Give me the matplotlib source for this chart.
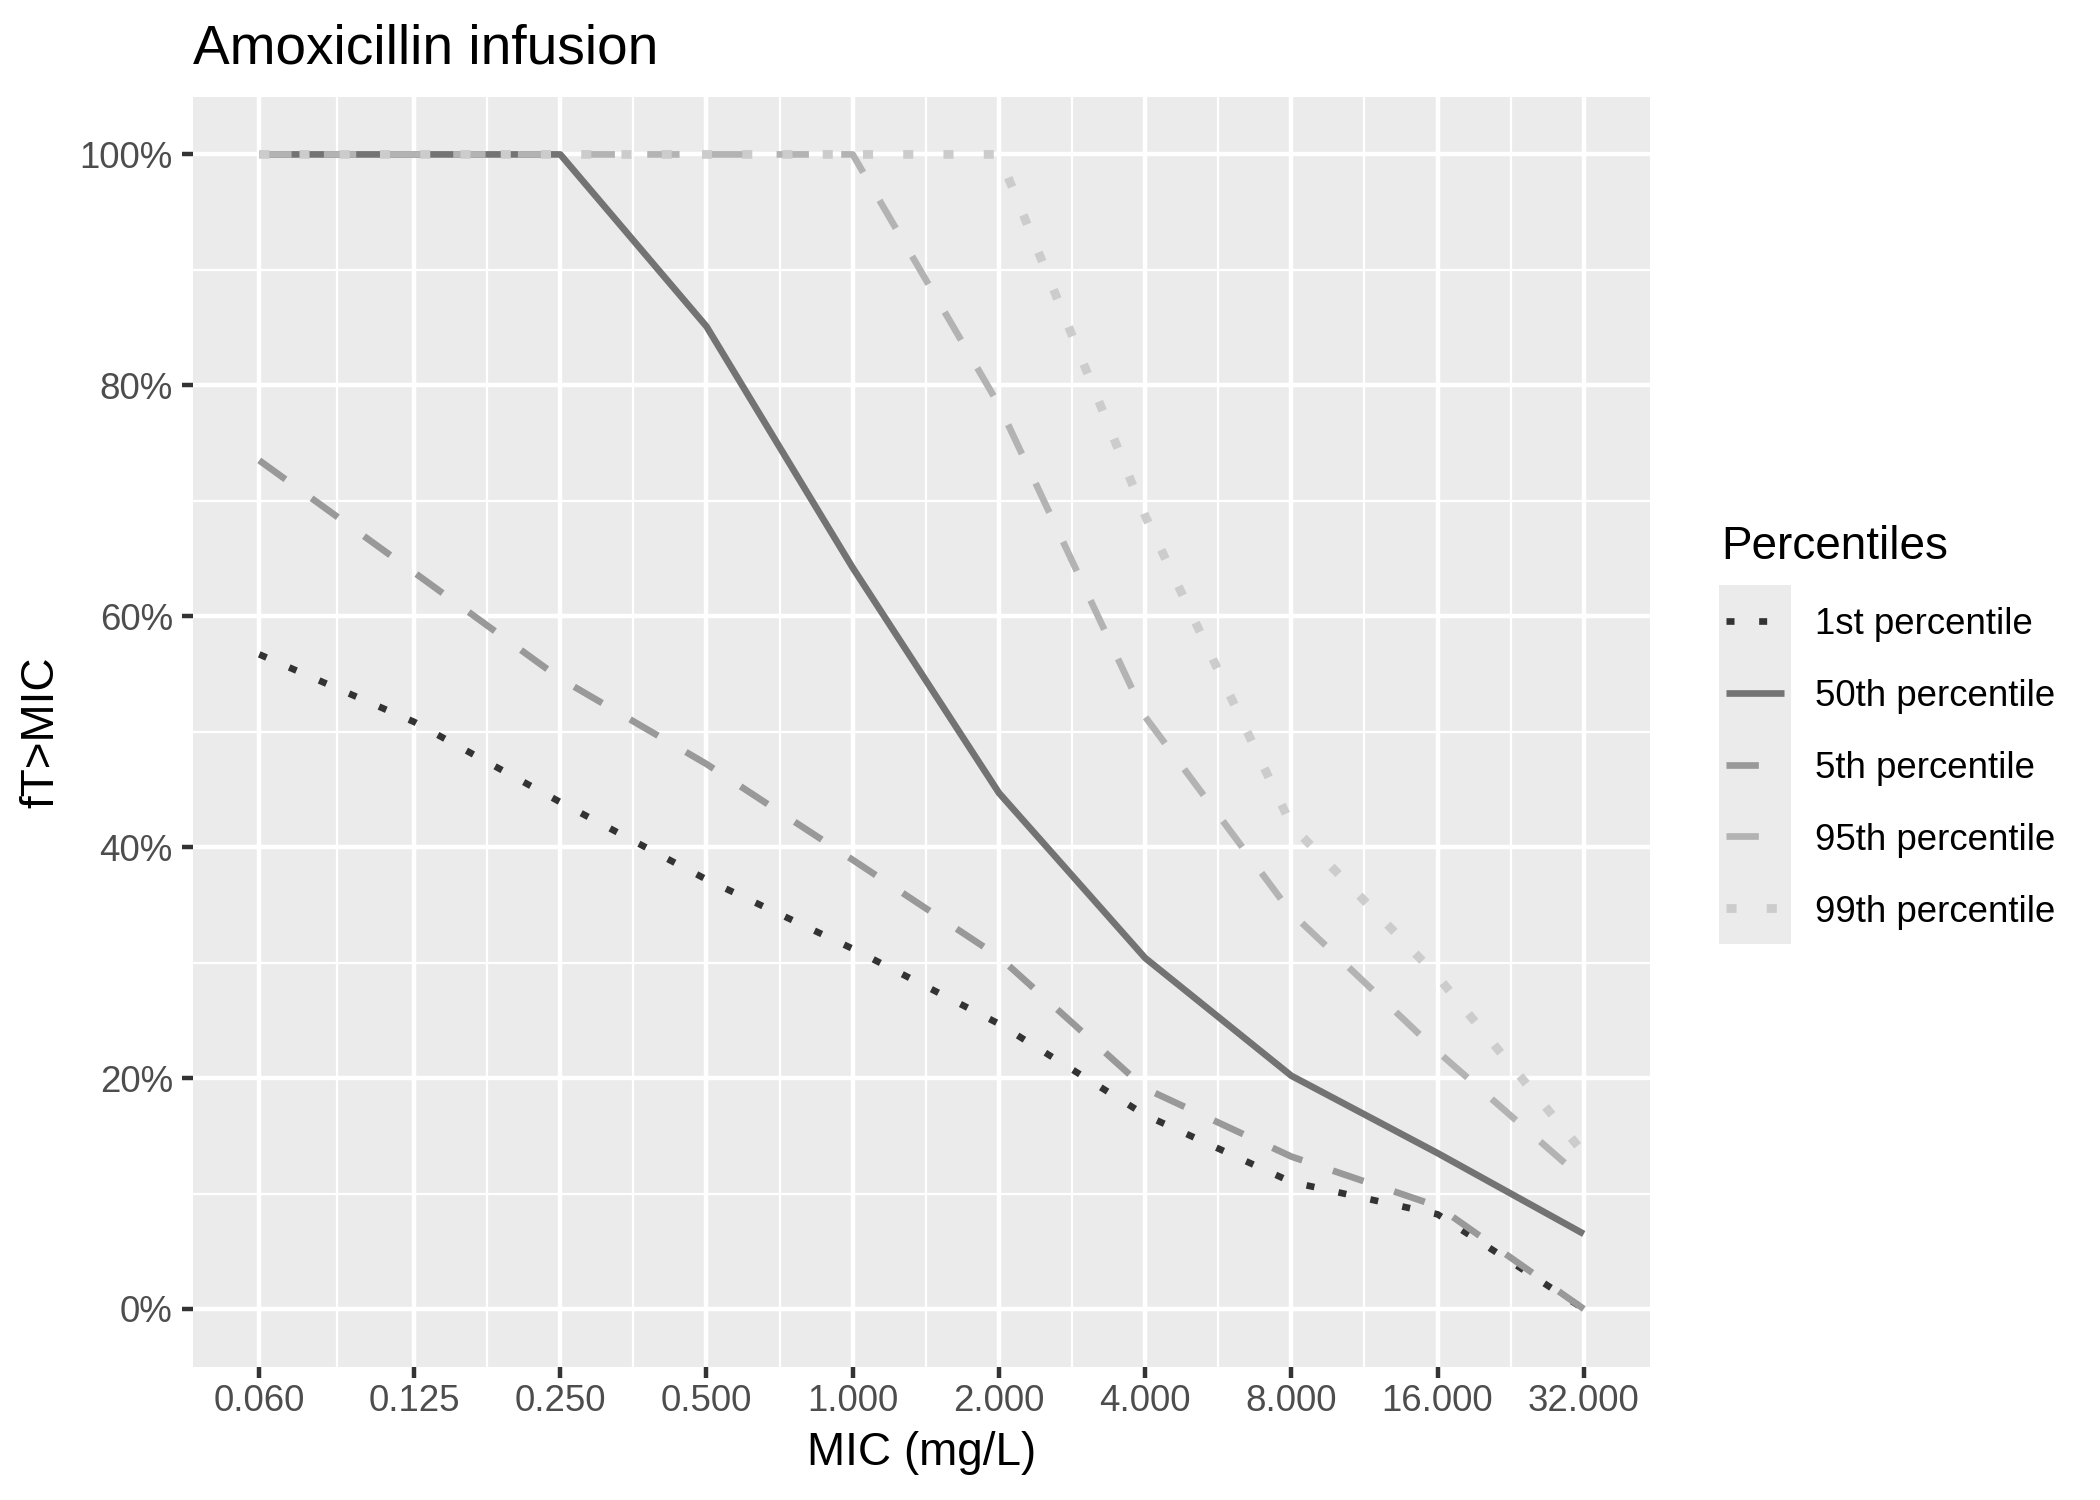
import matplotlib
matplotlib.use("Agg")
import matplotlib.pyplot as plt
import numpy as np
from matplotlib.ticker import FixedLocator, FixedFormatter, NullFormatter

plt.rcParams['font.family'] = ['Liberation Sans', 'DejaVu Sans']

# ---------------- data ----------------
mic = [0.06, 0.125, 0.25, 0.5, 1, 2, 4, 8, 16, 32]
mic_labels = ["0.060", "0.125", "0.250", "0.500", "1.000", "2.000",
              "4.000", "8.000", "16.000", "32.000"]
p1 = [56.7, 50.85, 43.9, 37.2, 31.2, 24.7, 16.8, 11.0, 8.2, 0.0]
p50 = [100, 100, 100, 85.1, 64.2, 44.7, 30.4, 20.2, 13.5, 6.5]
p5 = [73.5, 63.8, 54.6, 47.2, 38.9, 30.5, 19.1, 13.2, 8.9, 0.0]
p95 = [100, 100, 100, 100, 100, 78.3, 51.3, 34.3, 22.3, 11.2]
p99 = [100, 100, 100, 100, 100, 100, 68.7, 41.9, 28.8, 13.5]

series_labels = ["1st percentile", "50th percentile", "5th percentile",
                 "95th percentile", "99th percentile"]
series_values = [p1, p50, p5, p95, p99]
series_colors = ["#333333", "#737373", "#999999", "#B3B3B3", "#CCCCCC"]
series_lw = [1.6, 1.6, 1.6, 1.6, 2.1]
series_style = [(0, (1.2, 3.7)), "-", (0, (4.85, 4.85)), (0, (4.85, 4.85)), (0, (1.15, 3.45))]

y_ticks = [0, 20, 40, 60, 80, 100]
y_labels = ["0%", "20%", "40%", "60%", "80%", "100%"]

# ---------------- figure ----------------
W, H = 2100, 1500
fig = plt.figure(figsize=(7, 5), dpi=300)
fig.patch.set_facecolor("white")

px_l, px_r, px_t, px_b = 193, 1650, 96.7, 1366.7
ax = fig.add_axes([px_l / W, 1 - px_b / H, (px_r - px_l) / W, (px_b - px_t) / H])
ax.set_facecolor("#EBEBEB")
for s in ax.spines.values():
    s.set_visible(False)

ax.set_xscale("log", base=2)
span = np.log2(mic[-1] / mic[0])
ax.set_xlim(mic[0] / 2 ** (0.05 * span), mic[-1] * 2 ** (0.05 * span))
ax.set_ylim(-5, 105)

mic_arr = np.array(mic, dtype=float)
ax.xaxis.set_major_locator(FixedLocator(mic))
ax.xaxis.set_major_formatter(FixedFormatter(mic_labels))
ax.xaxis.set_minor_locator(FixedLocator(np.sqrt(mic_arr[:-1] * mic_arr[1:])))
ax.xaxis.set_minor_formatter(NullFormatter())
ax.yaxis.set_major_locator(FixedLocator(y_ticks))
ax.yaxis.set_major_formatter(FixedFormatter(y_labels))
ax.yaxis.set_minor_locator(FixedLocator([10, 30, 50, 70, 90]))
ax.yaxis.set_minor_formatter(NullFormatter())

ax.set_axisbelow(True)
ax.grid(which="major", color="white", linewidth=1.07)
ax.grid(which="minor", color="white", linewidth=0.53)
ax.tick_params(which="major", length=2.64, width=1.07, color="#333333",
               labelsize=8.8, labelcolor="#4D4D4D")
ax.tick_params(axis="x", which="major", pad=1.6)
ax.tick_params(axis="y", which="major", pad=2.2)
ax.tick_params(which="minor", length=0)

for lab, vals, col, lw, ls in zip(series_labels, series_values, series_colors,
                                  series_lw, series_style):
    ax.plot(mic, vals, color=col, linewidth=lw, linestyle=ls,
            dash_capstyle="butt", solid_capstyle="butt",
            solid_joinstyle="round", dash_joinstyle="round", label=lab)

# titles
fig.text(px_l / W, 1 - 63 / H, "Amoxicillin infusion", fontsize=13.2,
         color="black", ha="left", va="baseline")
fig.text((px_l + px_r) / 2 / W, 1 - 1453 / H, "MIC (mg/L)", fontsize=11,
         color="black", ha="center", va="center")
fig.text(41 / W, 1 - (px_t + px_b) / 2 / H, "fT>MIC", fontsize=11,
         color="black", ha="center", va="center", rotation=90)

# ---------------- legend ----------------
key_l, key_r, key_t, key_b = 1719, 1791, 585, 944
n = len(series_labels)
lax = fig.add_axes([key_l / W, 1 - key_b / H, (key_r - key_l) / W, (key_b - key_t) / H])
lax.set_facecolor("#EBEBEB")
for s in lax.spines.values():
    s.set_visible(False)
lax.set_xticks([])
lax.set_yticks([])
lax.set_xlim(0, 1)
lax.set_ylim(0, n)
row_h = (key_b - key_t) / n
for i, (lab, col, lw, ls) in enumerate(zip(series_labels, series_colors,
                                           series_lw, series_style)):
    yc = n - 0.5 - i
    lax.plot([0.1, 0.9], [yc, yc], color=col, linewidth=lw, linestyle=ls,
             dash_capstyle="butt", solid_capstyle="butt")
    row_center_px = key_t + row_h * (i + 0.5)
    fig.text(1815 / W, 1 - (row_center_px + 13.5) / H, lab, fontsize=8.8,
             color="black", ha="left", va="baseline")

fig.text(1721 / W, 1 - 559 / H, "Percentiles", fontsize=11, color="black",
         ha="left", va="baseline")

fig.savefig("out.png", dpi=300)
